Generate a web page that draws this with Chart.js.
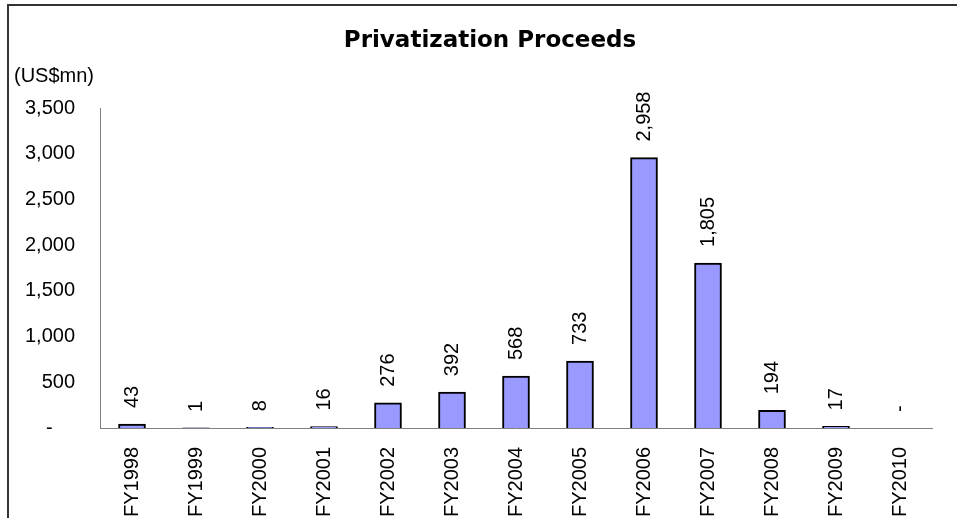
<!DOCTYPE html>
<html>
<head>
<meta charset="utf-8">
<script src="https://cdn.jsdelivr.net/npm/chart.js@4.4.1/dist/chart.umd.min.js"></script>
<style>
  html, body { margin: 0; padding: 0; background: #fff; overflow: hidden; }
  #wrap { position: relative; width: 957px; height: 518px; }
  #frame {
    position: absolute; left: 7px; top: 4px; width: 1000px; height: 600px;
    border: 2px solid #333; box-sizing: border-box; pointer-events: none;
  }
  canvas { position: absolute; left: 0; top: 0; }
</style>
</head>
<body>
<div id="wrap">
  <canvas id="chart" width="957" height="518"></canvas>
  <div id="frame"></div>
</div>
<script>
const categories = ["FY1998", "FY1999", "FY2000", "FY2001", "FY2002", "FY2003", "FY2004",
  "FY2005", "FY2006", "FY2007", "FY2008", "FY2009", "FY2010"];
const proceeds = [43, 1, 8, 16, 276, 392, 568, 733, 2958, 1805, 194, 17, 0];
const yTicks = [0, 500, 1000, 1500, 2000, 2500, 3000, 3500];

const FONT = "'Liberation Sans', Arial, sans-serif";

const fmt = (v) => (v === 0 ? "-" : v.toLocaleString("en-US"));

// title, unit label and rotated value labels above the bars
const decorations = {
  id: "decorations",
  afterDatasetsDraw(chart) {
    const ctx = chart.ctx;
    ctx.save();
    ctx.fillStyle = "#000";
    ctx.font = "bold 23px 'DejaVu Sans', sans-serif";
    ctx.textAlign = "center";
    ctx.textBaseline = "alphabetic";
    ctx.fillText("Privatization Proceeds", 490, 47);

    ctx.font = "20px " + FONT;
    ctx.textAlign = "left";
    ctx.textBaseline = "middle";
    ctx.fillText("(US$mn)", 14, 76);

    const meta = chart.getDatasetMeta(0);
    meta.data.forEach((bar, i) => {
      ctx.save();
      ctx.translate(bar.x, bar.y - 16);
      ctx.rotate(-Math.PI / 2);
      ctx.textAlign = "left";
      ctx.textBaseline = "middle";
      ctx.fillText(fmt(proceeds[i]), 0, 0);
      ctx.restore();
    });
    ctx.restore();
  },
};

new Chart(document.getElementById("chart"), {
  type: "bar",
  data: {
    labels: categories,
    datasets: [
      {
        data: proceeds,
        backgroundColor: "#9999FF",
        borderColor: "#000",
        borderWidth: 2,
        barThickness: 27,
      },
    ],
  },
  options: {
    responsive: false,
    devicePixelRatio: 1,
    animation: false,
    layout: { padding: { left: 0, top: 108, right: 25, bottom: 0 } },
    plugins: {
      legend: { display: false },
      title: { display: false },
      tooltip: { enabled: false },
    },
    scales: {
      x: {
        grid: { display: false, drawTicks: false },
        border: { display: true, color: "#808080", width: 1 },
        ticks: {
          color: "#000",
          font: { family: FONT, size: 20 },
          minRotation: 90,
          maxRotation: 90,
          autoSkip: false,
          padding: 19,
        },
        afterFit: (scale) => { scale.height = 90; },
      },
      y: {
        min: 0,
        max: 3500,
        afterBuildTicks: (scale) => { scale.ticks = yTicks.map((v) => ({ value: v })); },
        grid: { display: false, drawTicks: false },
        border: { display: true, color: "#808080", width: 1 },
        ticks: {
          color: "#000",
          font: { family: FONT, size: 20 },
          padding: 25,
          callback: (v) => (v === 0 ? "-    " : v.toLocaleString("en-US")),
        },
        afterFit: (scale) => { scale.width = 100; },
      },
    },
  },
  plugins: [decorations],
});
</script>
</body>
</html>
